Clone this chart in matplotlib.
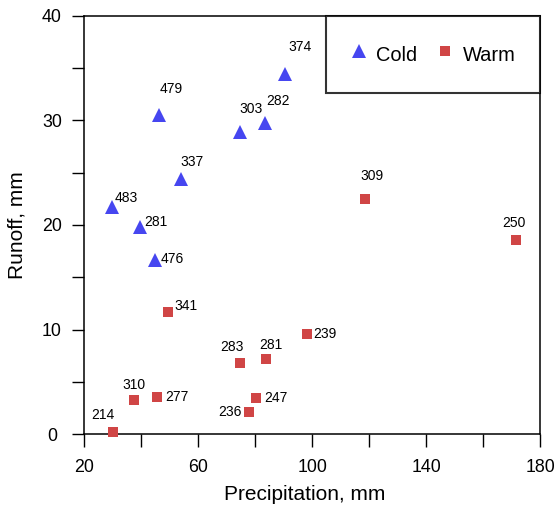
import matplotlib
matplotlib.use("Agg")
import matplotlib.pyplot as plt

plt.rcParams["font.family"] = ["Liberation Sans", "DejaVu Sans"]

# cold season samples
cold_precip = [90.5, 46.2, 74.5, 83.5, 54.1, 29.7, 39.6, 44.8]
cold_runoff = [34.4, 30.5, 28.9, 29.7, 24.4, 21.7, 19.8, 16.6]
cold_ids = ["374", "479", "303", "282", "337", "483", "281", "476"]

# warm season samples
warm_precip = [49.4, 98.2, 74.7, 83.9, 37.5, 45.6, 80.4, 77.9, 30.2, 118.6, 171.6]
warm_runoff = [11.7, 9.6, 6.8, 7.2, 3.3, 3.6, 3.5, 2.1, 0.2, 22.5, 18.6]
warm_ids = ["341", "239", "283", "281", "310", "277", "247", "236", "214", "309", "250"]

# label placement (offset in pixels, horizontal alignment)
cold_lbl = [(15, 27, "center"), (12, 26, "center"), (11, 23, "center"), (13, 22, "center"),
            (11, 17, "center"), (3, 9, "left"), (4, 5, "left"), (6, 1, "left")]
warm_lbl = [(6, 6, "left"), (6, 0, "left"), (-8, 16, "center"), (4, 14, "center"),
            (0, 15, "center"), (8, 0, "left"), (8, 0, "left"), (-8, 0, "right"),
            (-10, 17, "center"), (7, 23, "center"), (-2, 17, "center")]

fig = plt.figure(figsize=(5.6, 5.05), dpi=100)
ax = fig.add_axes([0.1505, 0.1400, 0.8143, 0.8293])

ax.plot(cold_precip, cold_runoff, "^", color="#4646f0", ms=10.5, mew=0,
        clip_on=False, label="Cold", zorder=3)
ax.plot(warm_precip, warm_runoff, "s", color="#d04545", ms=7.4, mew=0,
        clip_on=False, label="Warm", zorder=3)

for x, y, t, (dx, dy, ha) in zip(cold_precip, cold_runoff, cold_ids, cold_lbl):
    ax.annotate(t, (x, y), xytext=(dx, dy), textcoords="offset pixels",
                ha=ha, va="center", fontsize=10)
for x, y, t, (dx, dy, ha) in zip(warm_precip, warm_runoff, warm_ids, warm_lbl):
    ax.annotate(t, (x, y), xytext=(dx, dy), textcoords="offset pixels",
                ha=ha, va="center", fontsize=10)

ax.set_xlim(20, 180)
ax.set_ylim(0, 40)
ax.set_xticks(range(20, 181, 20))
ax.set_xticklabels(["20", "", "60", "", "100", "", "140", "", "180"])
ax.set_yticks(range(0, 41, 5))
ax.set_yticklabels(["0", "", "10", "", "20", "", "30", "", "40"])
ax.tick_params(direction="out", length=9, width=1, labelsize=12.8)
ax.tick_params(axis="x", pad=9)
ax.tick_params(axis="y", pad=14.3)
for lbl in ax.get_yticklabels():
    lbl.set_ha("center")

for s in ax.spines.values():
    s.set_linewidth(1.1)

ax.set_xlabel("Precipitation, mm", fontsize=15, va="center")
ax.set_ylabel("Runoff, mm", fontsize=15, va="center")
ax.xaxis.set_label_coords(0.483, -0.143)
ax.yaxis.set_label_coords(-0.1476, 0.5)

leg = ax.legend(loc="upper right", bbox_to_anchor=(1, 1), borderaxespad=0, ncol=2,
                fontsize=14.4, frameon=True, fancybox=False, edgecolor="black",
                borderpad=1.25, handlelength=0.8, handleheight=1.7,
                handletextpad=0.45, columnspacing=1.0, numpoints=1)
leg.get_frame().set_linewidth(1.5)

fig.savefig("out.png", dpi=100)
